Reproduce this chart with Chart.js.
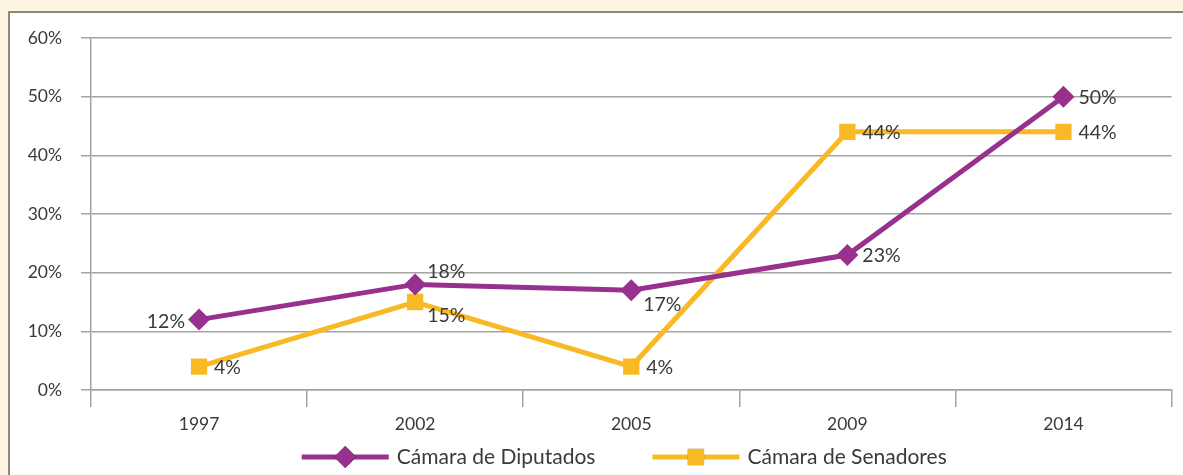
<!DOCTYPE html>
<html>
<head>
<meta charset="utf-8">
<script src="https://cdn.jsdelivr.net/npm/chart.js@4/dist/chart.umd.min.js"></script>
<style>
  html, body { margin: 0; padding: 0; background: #fdf5e1; overflow: hidden; }
  .box {
    position: absolute; left: 8px; top: 11px; width: 1200px; height: 500px;
    background: #fff; border: 2px solid #8c8779;
  }
  .wrap { position: absolute; left: 0; top: 0; width: 1183px; height: 475px; }
</style>
</head>
<body>
<div class="box"></div>
<div class="wrap"><canvas id="chart"></canvas></div>
<script>
const years = ["1997", "2002", "2005", "2009", "2014"];
const diputados = [12, 18, 17, 23, 50];
const senadores = [4, 15, 4, 44, 44];
const yTicks = [0, 10, 20, 30, 40, 50, 60];
// where each value label sits relative to its point
const diputadosLabelPos = ["left", "aboveRight", "belowRight", "right", "right"];
const senadoresLabelPos = ["right", "belowRight", "right", "right", "right"];

const PURPLE = "#98308e";
const YELLOW = "#f9b925";
const FONT = "Lato, 'DejaVu Sans', sans-serif";
const TEXT = "#3a3a3a";
const GRID = "#a3a3a3";

const valueLabels = {
  id: "valueLabels",
  afterDatasetsDraw(chart) {
    const ctx = chart.ctx;
    ctx.save();
    ctx.font = "19.5px " + FONT;
    ctx.fillStyle = TEXT;
    ctx.textBaseline = "middle";
    chart.data.datasets.forEach((ds, i) => {
      const meta = chart.getDatasetMeta(i);
      meta.data.forEach((pt, j) => {
        const txt = ds.data[j] + "%";
        const pos = ds.labelPos[j];
        let x = pt.x + 15, y = pt.y + 1;
        ctx.textAlign = "left";
        if (pos === "left") { ctx.textAlign = "right"; x = pt.x - 14; y = pt.y + 2; }
        if (pos === "aboveRight") { x = pt.x + 12; y = pt.y - 13; }
        if (pos === "belowRight") { x = pt.x + 12; y = pt.y + 14; }
        ctx.fillText(txt, x, y);
      });
    });
    ctx.restore();
  }
};

// legend drawn by hand: line with marker in the middle, then the text
const lineLegend = {
  id: "lineLegend",
  afterDraw(chart) {
    const ctx = chart.ctx;
    const y = 457;
    ctx.save();
    ctx.font = "21px " + FONT;
    const items = chart.data.datasets.map(ds => ({ ds, w: 87 + 8 + ctx.measureText(ds.label).width }));
    const gap = 57;
    const total = items.reduce((s, it) => s + it.w, 0) + gap * (items.length - 1);
    let x = (chart.chartArea.left + chart.chartArea.right) / 2 - 7 - total / 2;
    items.forEach(({ ds, w }) => {
      ctx.strokeStyle = ds.borderColor;
      ctx.lineWidth = ds.borderWidth;
      ctx.beginPath();
      ctx.moveTo(x, y);
      ctx.lineTo(x + 87, y);
      ctx.stroke();
      Chart.helpers.drawPoint(ctx, {
        pointStyle: ds.pointStyle, radius: ds.pointRadius, rotation: 0, borderWidth: 0
      }, x + 43.5, y);
      ctx.fillStyle = ds.backgroundColor;
      ctx.fill();
      ctx.fillStyle = TEXT;
      ctx.textAlign = "left";
      ctx.textBaseline = "middle";
      ctx.fillText(ds.label, x + 95, y);
      x += w + gap;
    });
    ctx.restore();
  }
};

new Chart(document.getElementById("chart"), {
  type: "line",
  data: {
    labels: years,
    datasets: [
      {
        label: "Cámara de Diputados",
        data: diputados,
        labelPos: diputadosLabelPos,
        borderColor: PURPLE,
        backgroundColor: PURPLE,
        borderWidth: 5,
        pointStyle: "rectRot",
        pointRadius: 11,
        pointHoverRadius: 11,
        pointBorderWidth: 0,
      },
      {
        label: "Cámara de Senadores",
        data: senadores,
        labelPos: senadoresLabelPos,
        borderColor: YELLOW,
        backgroundColor: YELLOW,
        borderWidth: 5,
        pointStyle: "rect",
        pointRadius: 11.5,
        pointHoverRadius: 11.5,
        pointBorderWidth: 0,
      },
    ],
  },
  plugins: [valueLabels, lineLegend],
  options: {
    responsive: true,
    maintainAspectRatio: false,
    animation: false,
    layout: { padding: { left: 0, top: 38, right: 2, bottom: 0 } },
    plugins: { legend: { display: false }, tooltip: { enabled: false } },
    scales: {
      x: {
        offset: true,
        afterFit: (s) => { s.height = 85; },
        grid: { offset: true, drawOnChartArea: false, color: GRID, tickColor: GRID, tickLength: 17, lineWidth: 1.5 },
        border: { color: GRID, width: 1.5 },
        ticks: { color: TEXT, font: { family: FONT, size: 17.5 }, padding: 7 },
      },
      y: {
        min: 0,
        max: 60,
        afterFit: (s) => { s.width = 91; },
        afterBuildTicks: (s) => { s.ticks = yTicks.map(v => ({ value: v })); },
        grid: { color: GRID, tickColor: GRID, tickLength: 10, lineWidth: 1.5 },
        border: { color: GRID, width: 1.5 },
        ticks: { color: TEXT, font: { family: FONT, size: 17.5 }, padding: 19, callback: (v) => v + "%" },
      },
    },
  },
});
</script>
</body>
</html>
